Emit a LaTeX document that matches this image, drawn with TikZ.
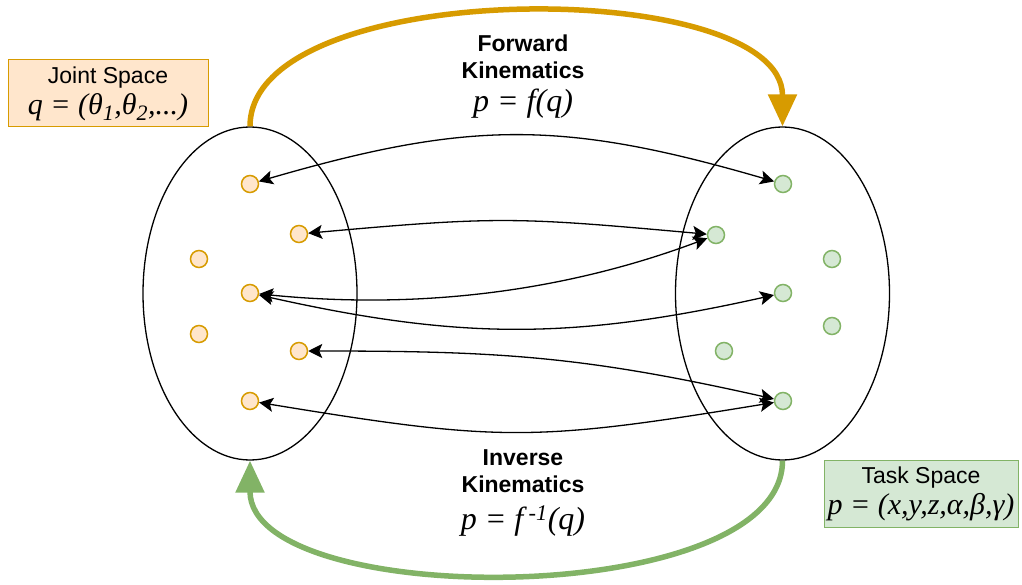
\documentclass[tikz,border=0pt]{standalone}
\usepackage{fontspec}
\setmainfont{Liberation Sans}
\newfontfamily\formulafont{Liberation Serif}
\usetikzlibrary{arrows.meta,shapes.geometric}
\definecolor{jointline}{HTML}{D79B00}
\definecolor{jointfill}{HTML}{FFE6CC}
\definecolor{taskline}{HTML}{82B366}
\definecolor{taskfill}{HTML}{D5E8D4}

\begin{document}
\begin{tikzpicture}[x=1pt, y=-1pt,
    jointdot/.style={circle, draw=jointline, fill=jointfill, line width=1.5pt, minimum size=17pt, inner sep=0pt},
    taskdot/.style={circle, draw=taskline, fill=taskfill, line width=1.5pt, minimum size=17pt, inner sep=0pt},
    spaceset/.style={ellipse, draw, line width=1.3pt, minimum width=214pt, minimum height=333pt, inner sep=0pt},
    map/.style={{Stealth[length=14pt,width=14pt,inset=3pt]}-{Stealth[length=14pt,width=14pt,inset=3pt]}, line width=1.3pt},
    flow/.style={line width=5.5pt, -{Triangle[length=32pt,width=28pt]}},
    title/.style={font=\fontsize{23}{27}\selectfont\bfseries, align=center},
    formula/.style={font=\fontsize{32}{36}\selectfont\formulafont\itshape},
    spacebox/.style={draw, line width=1pt, minimum height=67pt, align=center, inner sep=0pt, font=\fontsize{23}{30}\selectfont}]
  \useasboundingbox (0,0) rectangle (1022,585);

  % the two sets
  \node[spaceset] (jointset) at (250,293.5) {};
  \node[spaceset] (taskset) at (782.5,293.5) {};

  % configurations and poses
  \foreach \n/\x/\y in {1/250/184, 2/299/234, 3/199/259, 4/250/293, 5/199/334, 6/299/351, 7/250/401}
    \node[jointdot] (q\n) at (\x,\y) {};
  \foreach \n/\x/\y in {1/783/184, 2/716/235, 3/832/259, 4/783/293, 5/832/326, 6/724/351, 7/783/401}
    \node[taskdot] (p\n) at (\x,\y) {};

  % mappings
  \draw[map] (q1) .. controls +(220,-64) and +(-220,-64) .. (p1);
  \draw[map] (q2) .. controls +(200,-18) and +(-200,-18) .. (p2);
  \draw[map] (q4) .. controls +(200,20) and +(-120,45) .. (p2);
  \draw[map] (q4) .. controls +(210,47) and +(-210,47) .. (p4);
  \draw[map] (q6) .. controls +(200,0) and +(-200,-45) .. (p7);
  \draw[map] (q7) .. controls +(250,41) and +(-250,41) .. (p7);

  % forward / inverse
  \draw[flow, jointline] (jointset.north) .. controls +(0,-151) and +(0,-151) .. (taskset.north);
  \draw[flow, taskline] (taskset.south) .. controls +(0,150) and +(0,150) .. (jointset.south);

  \node[title] (fktitle) at (523,57) {Forward\\Kinematics};
  \node[formula] (fkeq) at (523,104) {p = f(q)};
  \node[title] (iktitle) at (523,471) {Inverse\\Kinematics};
  \node[formula] (ikeq) at (523,521) {p = f\,\textsuperscript{-1}(q)};

  % boxes
  \node[spacebox, draw=jointline, fill=jointfill, minimum width=200pt] (jointbox) at (108,93.5)
    {Joint Space\\[1pt]{\fontsize{30}{30}\selectfont\formulafont\itshape q = (θ\textsubscript{\fontsize{22}{22}\selectfont 1},θ\textsubscript{\fontsize{22}{22}\selectfont 2},...)}};
  \node[spacebox, draw=taskline, fill=taskfill, minimum width=194pt] (taskbox) at (921,493.5)
    {Task Space\\[1pt]{\fontsize{30}{30}\selectfont\formulafont\itshape p = (x,y,z,α,β,γ)}};
\end{tikzpicture}
\end{document}
